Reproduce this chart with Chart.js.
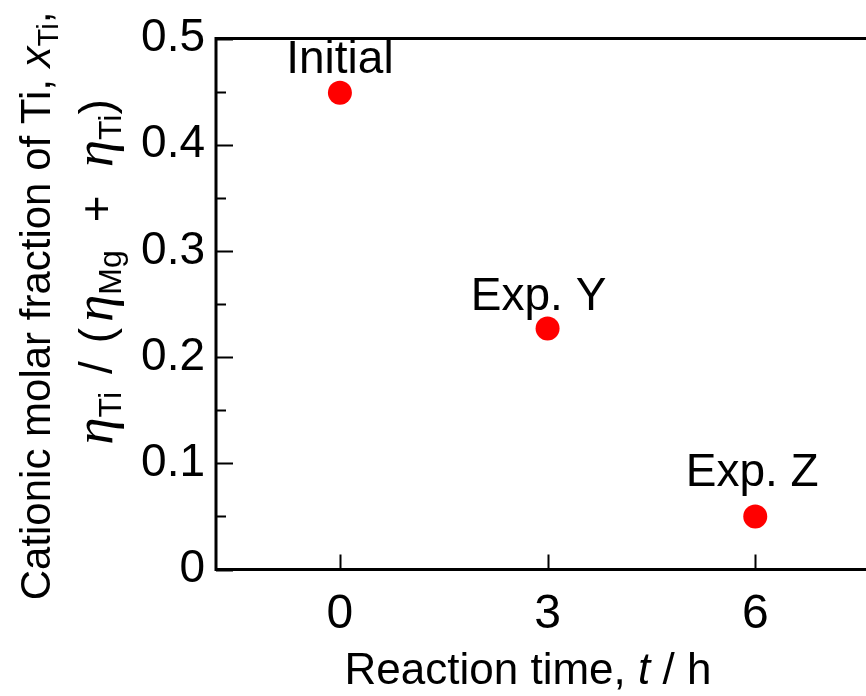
<!DOCTYPE html>
<html lang="en">
<head>
    <meta charset="UTF-8">
    <title>Cationic molar fraction of Ti</title>
    <script src="https://cdn.jsdelivr.net/npm/chart.js"></script>
    <style>
        body { margin: 0; background: white; }
        canvas { display: block; background-color: white; }
    </style>
</head>
<body>
    <canvas id="myChart" width="866" height="696"></canvas>
    <script>
        // values
        const sampleNames = ['Initial', 'Exp. Y', 'Exp. Z'];
        const reactionTimes = [0, 3, 6];       // h
        const tiFractions = [0.449, 0.227, 0.05];
        const xTickValues = [0, 3, 6];
        const yMinorStep = 0.05;

        const FONT = '"Liberation Sans", Arial, sans-serif';
        const SERIF = '"Liberation Serif", "Times New Roman", serif';

        // draw a run of text parts centred on cx, baseline y
        // styles: n normal, i italic, g greek italic, s subscript, w blank gap (px)
        function drawRich(ctx, parts, cx, y, size) {
            const fontFor = (style) => {
                if (style === 'i') return 'italic ' + size + 'px ' + FONT;
                if (style === 'g') return 'italic ' + Math.round(size * 1.2) + 'px ' + SERIF;
                if (style === 's') return Math.round(size * 0.7) + 'px ' + FONT;
                return size + 'px ' + FONT;
            };
            const widthOf = (p) => {
                if (p[1] === 'w') return p[0];
                ctx.font = fontFor(p[1]);
                return ctx.measureText(p[0]).width;
            };
            let total = 0;
            parts.forEach(p => { total += widthOf(p); });
            let x = cx - total / 2;
            ctx.textAlign = 'left';
            ctx.textBaseline = 'alphabetic';
            parts.forEach(p => {
                const w = widthOf(p);
                if (p[1] !== 'w') {
                    ctx.font = fontFor(p[1]);
                    const dy = p[1] === 's' ? size * 0.2 : 0;
                    ctx.fillText(p[0], x, y + dy);
                }
                x += w;
            });
        }

        const framePlugin = {
            id: 'frame',
            afterDraw(chart) {
                const ctx = chart.ctx;
                const area = chart.chartArea;
                const xs = chart.scales.x;
                const ys = chart.scales.y;
                ctx.save();
                ctx.strokeStyle = '#000';
                ctx.fillStyle = '#000';
                ctx.lineWidth = 3;
                ctx.beginPath();
                ctx.moveTo(chart.width, area.top);
                ctx.lineTo(area.left, area.top);
                ctx.lineTo(area.left, area.bottom);
                ctx.lineTo(chart.width, area.bottom);
                ctx.stroke();

                // inward ticks
                ctx.lineWidth = 2;
                ctx.beginPath();
                for (let v = 0; v <= 0.5 + 1e-9; v += yMinorStep) {
                    const py = Math.round(ys.getPixelForValue(v)) + 0.5;
                    const major = Math.abs(v * 10 - Math.round(v * 10)) < 1e-6;
                    ctx.moveTo(area.left, py);
                    ctx.lineTo(area.left + (major ? 17 : 10), py);
                }
                xTickValues.forEach(v => {
                    const px = Math.round(xs.getPixelForValue(v)) + 0.5;
                    ctx.moveTo(px, area.bottom);
                    ctx.lineTo(px, area.bottom - 15);
                });
                ctx.stroke();

                // x tick labels
                ctx.font = '48px ' + FONT;
                ctx.textAlign = 'center';
                ctx.textBaseline = 'middle';
                xTickValues.forEach(v => {
                    ctx.fillText(String(v), xs.getPixelForValue(v), area.bottom + 45);
                });

                // point labels
                const meta = chart.getDatasetMeta(0);
                const labelShift = [[0, -20], [-9, -18], [-3, -30]];
                ctx.font = '46px ' + FONT;
                ctx.textBaseline = 'alphabetic';
                meta.data.forEach((pt, i) => {
                    ctx.fillText(sampleNames[i], pt.x + labelShift[i][0], pt.y + labelShift[i][1]);
                });

                // axis titles
                drawRich(ctx, [['Reaction time, ', 'n'], ['t', 'i'], [' / h', 'n']], 528, 684, 44);

                ctx.translate(50, 306);
                ctx.rotate(-Math.PI / 2);
                drawRich(ctx, [['Cationic molar fraction of Ti, ', 'n'], ['x', 'i'], ['Ti', 's'], [',', 'n']], 0, 0, 42);
                ctx.rotate(Math.PI / 2);
                ctx.translate(62, -34);
                ctx.rotate(-Math.PI / 2);
                drawRich(ctx, [
                    ['\u03B7', 'g'], ['Ti', 's'], [18, 'w'], ['/', 'n'], [18, 'w'], ['(', 'n'], [6, 'w'],
                    ['\u03B7', 'g'], ['Mg', 's'], [28, 'w'], ['+', 'n'], [28, 'w'],
                    ['\u03B7', 'g'], ['Ti', 's'], [')', 'n']
                ], 0, 0, 46);
                ctx.restore();
            }
        };

        const ctx = document.getElementById('myChart').getContext('2d');
        const myChart = new Chart(ctx, {
            type: 'scatter',
            data: {
                datasets: [{
                    label: 'x_Ti',
                    data: reactionTimes.map((t, i) => ({ x: t, y: tiFractions[i] })),
                    backgroundColor: '#ff0000',
                    borderWidth: 0,
                    pointRadius: 12,
                    pointHoverRadius: 12
                }]
            },
            options: {
                responsive: false,
                animation: false,
                layout: { autoPadding: false, padding: { top: 38, right: 0, left: 0, bottom: 0 } },
                plugins: {
                    legend: { display: false },
                    tooltip: { enabled: false }
                },
                scales: {
                    x: {
                        type: 'linear',
                        min: -1.79,
                        max: 7.6,
                        grid: { display: false, drawTicks: false },
                        border: { display: false },
                        ticks: { display: false },
                        afterFit: (axis) => { axis.height = 126.5; }
                    },
                    y: {
                        min: 0,
                        max: 0.5,
                        grid: { display: false, drawTicks: false },
                        border: { display: false },
                        afterFit: (axis) => { axis.width = 216; },
                        ticks: {
                            stepSize: 0.1,
                            color: '#000',
                            padding: 11,
                            font: { family: FONT, size: 46 },
                            callback: (v) => (v === 0 ? '0' : v.toFixed(1))
                        }
                    }
                }
            },
            plugins: [framePlugin]
        });
    </script>
</body>
</html>
